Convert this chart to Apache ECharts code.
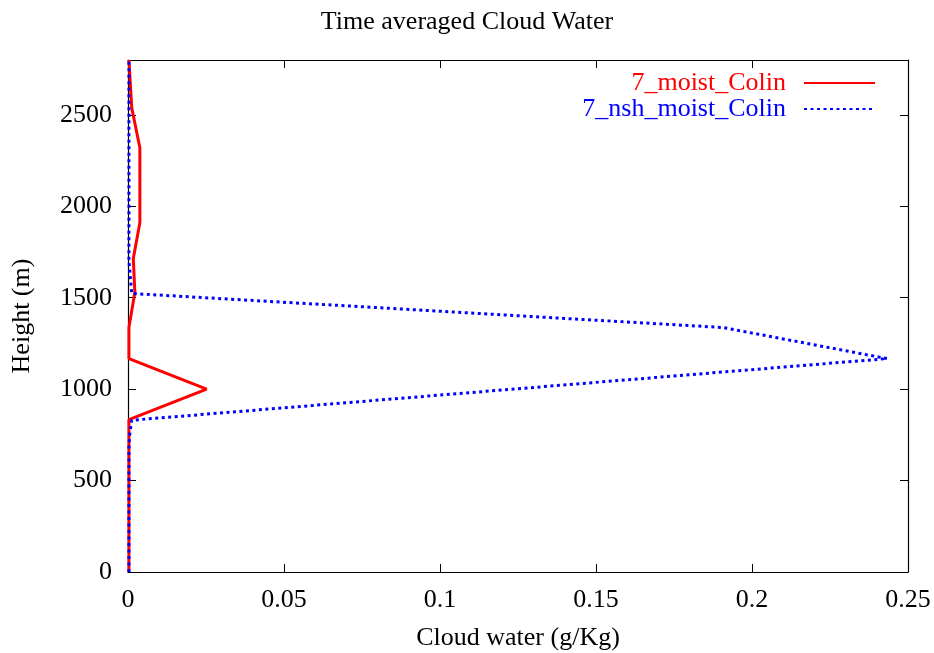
<!DOCTYPE html>
<html>
<head>
<meta charset="utf-8">
<script src="https://cdn.jsdelivr.net/npm/echarts@6/dist/echarts.min.js"></script>
<style>
  html, body { margin: 0; padding: 0; background: #fff; }
  #chart { width: 934px; height: 653px; }
</style>
</head>
<body>
<div id="chart"></div>
<script>
// values
const moistHeights = [0, 833, 1000, 1167, 1337, 1530, 1714, 1910, 2320, 2538, 2800]
const moistWater = [0.0003, 0.0003, 0.0252, 0.0003, 0.0003, 0.0022, 0.0017, 0.0038, 0.0038, 0.0012, 0.0003]

const nshHeights = [0, 693, 759, 830, 1167, 1337, 1523, 1700, 2800]
const nshWater = [0.0003, 0.0003, 0.0006, 0.0012, 0.2433, 0.1907, 0.0012, 0.0003, 0.0003]

const xTicks = [0, 0.05, 0.1, 0.15, 0.2, 0.25]
const yTicks = [0, 500, 1000, 1500, 2000, 2500]

const font = 'Liberation Serif'
const fs = 26

const pairs = (xs, ys) => xs.map((v, i) => [v, ys[i]])

var chartDom = document.getElementById('chart')
var myChart = echarts.init(chartDom)

const tickStyle = { inside: true, length: 8, lineStyle: { color: '#000', width: 1 } }
const lineStyle = { onZero: false, lineStyle: { color: '#000', width: 1.2 } }

const option = {
  animation: false,
  backgroundColor: '#fff',
  title: {
    text: 'Time averaged Cloud Water',
    left: 'center',
    top: 4,
    textStyle: { fontFamily: font, fontSize: fs, fontWeight: 'normal', color: '#000' }
  },
  legend: {
    right: 53,
    top: 65,
    orient: 'vertical',
    align: 'right',
    itemWidth: 71,
    itemHeight: 14,
    itemGap: 0,
    itemStyle: { opacity: 0 },
    textStyle: { fontFamily: font, fontSize: fs, padding: [0, 13, 0, 0] },
    data: [
      { name: '7_moist_Colin', textStyle: { color: '#ff0000' } },
      { name: '7_nsh_moist_Colin', textStyle: { color: '#0000ff' } }
    ]
  },
  grid: { left: 128, right: 26, top: 60, bottom: 81, containLabel: false, outerBoundsMode: 'none' },
  xAxis: [
    {
      type: 'value', min: 0, max: 0.25, interval: 0.05,
      name: 'Cloud water (g/Kg)', nameLocation: 'middle', nameGap: 53,
      nameTextStyle: { fontFamily: font, fontSize: fs, color: '#000' },
      axisLine: lineStyle, axisTick: tickStyle, splitLine: { show: false },
      axisLabel: {
        fontFamily: font, fontSize: fs, color: '#000', margin: 15,
        formatter: v => xTicks.includes(+v.toFixed(2)) ? String(+v.toFixed(2)) : ''
      }
    },
    {
      type: 'value', position: 'top', min: 0, max: 0.25, interval: 0.05,
      axisLine: lineStyle, axisTick: tickStyle, axisLabel: { show: false }, splitLine: { show: false }
    }
  ],
  yAxis: [
    {
      type: 'value', min: 0, max: 2800, interval: 500,
      name: 'Height (m)', nameLocation: 'middle', nameGap: 93,
      nameTextStyle: { fontFamily: font, fontSize: fs, color: '#000' },
      axisLine: lineStyle, axisTick: tickStyle, splitLine: { show: false },
      axisLabel: {
        fontFamily: font, fontSize: fs, color: '#000', margin: 16,
        formatter: v => yTicks.includes(v) ? String(v) : ''
      }
    },
    {
      type: 'value', position: 'right', min: 0, max: 2800, interval: 500,
      axisLine: lineStyle, axisTick: tickStyle, axisLabel: { show: false }, splitLine: { show: false }
    }
  ],
  series: [
    {
      name: '7_moist_Colin',
      type: 'line',
      data: pairs(moistWater, moistHeights),
      showSymbol: false,
      symbol: 'none',
      color: '#ff0000',
      lineStyle: { color: '#ff0000', width: 3 },
      z: 3
    },
    {
      name: '7_nsh_moist_Colin',
      type: 'line',
      data: pairs(nshWater, nshHeights),
      showSymbol: false,
      symbol: 'none',
      color: '#0000ff',
      lineStyle: { color: '#0000ff', width: 3, type: [3, 3.5] },
      z: 4
    }
  ]
}

option && myChart.setOption(option)
</script>
</body>
</html>
